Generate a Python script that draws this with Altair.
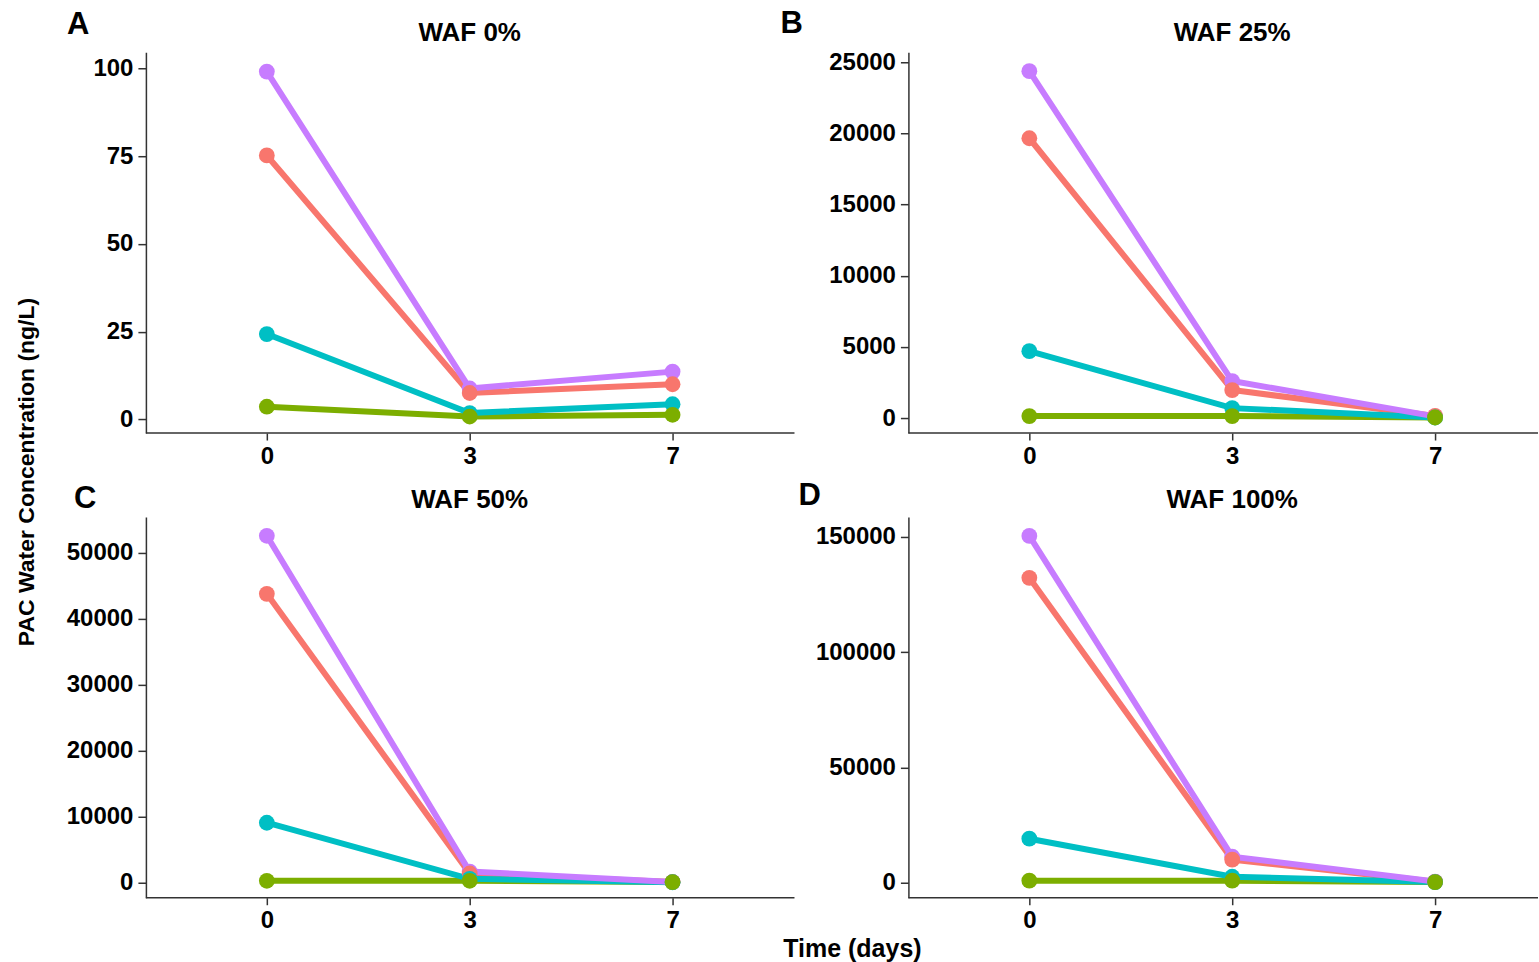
import altair as alt
import pandas as pd

# Sampling days (categorical, evenly spaced on the axis)
DAYS = ["0", "3", "7"]

# Series in drawing order for the lines: red, green, cyan, purple
SERIES = ["Series 1", "Series 2", "Series 3", "Series 4"]
COLORS = ["#F8766D", "#7CAE00", "#00BFC4", "#C77CFF"]
# Drawing order for the points (purple, red, cyan, green)
POINT_RANK = {"Series 4": 0, "Series 1": 1, "Series 3": 2, "Series 2": 3}

# PAC water concentrations (ng/L) on day 0, 3 and 7
WAF0_S1 = [75.2, 7.5, 10.0]
WAF0_S2 = [3.6, 0.8, 1.3]
WAF0_S3 = [24.3, 1.8, 4.3]
WAF0_S4 = [99.1, 8.8, 13.6]

WAF25_S1 = [19660, 1970, 150]
WAF25_S2 = [140, 140, 40]
WAF25_S3 = [4700, 700, 40]
WAF25_S4 = [24370, 2600, 120]

WAF50_S1 = [43800, 1400, 100]
WAF50_S2 = [300, 300, 100]
WAF50_S3 = [9100, 600, 80]
WAF50_S4 = [52600, 1700, 120]

WAF100_S1 = [132200, 10000, 400]
WAF100_S2 = [900, 900, 300]
WAF100_S3 = [19100, 2600, 300]
WAF100_S4 = [150400, 11300, 500]

# y-axis tick labels for each panel
TICKS_0 = [0, 25, 50, 75, 100]
TICKS_25 = [0, 5000, 10000, 15000, 20000, 25000]
TICKS_50 = [0, 10000, 20000, 30000, 40000, 50000]
TICKS_100 = [0, 50000, 100000, 150000]

FONT = "Liberation Sans"
INK = "#000000"
AXIS = "#333333"
PLOT_H = 381


def long_table(series_values):
    rows = []
    for name, vals in zip(SERIES, series_values):
        for day, v in zip(DAYS, vals):
            rows.append({"series": name, "day": day, "conc": v, "prank": POINT_RANK[name]})
    return pd.DataFrame(rows)


def label(text, x, y, size, align="left", angle=0, baseline="alphabetic"):
    return alt.Chart(pd.DataFrame({"k": [0]})).mark_text(
        font=FONT, fontSize=size, fontWeight="bold", color=INK,
        align=align, baseline=baseline, angle=angle,
    ).encode(x=alt.value(x), y=alt.value(y), text=alt.value(text))


def panel(series_values, title, letter, letter_xy, title_y, ydom, yticks, width, extra=()):
    df = long_table(series_values)
    x = alt.X(
        "day:O", sort=DAYS,
        scale=alt.Scale(range=[121, 527], padding=0),
        axis=alt.Axis(title=None, domain=False, labelAngle=0, tickSize=7,
                      labelPadding=4, labelBaseline="top"),
    )
    y = alt.Y(
        "conc:Q",
        scale=alt.Scale(domain=ydom, nice=False, zero=False),
        axis=alt.Axis(title=None, values=yticks, format="d", tickSize=8,
                      labelPadding=5, domainWidth=1.5),
    )
    color = alt.Color("series:N", scale=alt.Scale(domain=SERIES, range=COLORS), legend=None)

    lines = alt.Chart(df).mark_line(strokeWidth=6).encode(x=x, y=y, color=color)
    points = alt.Chart(df).mark_circle(size=250, opacity=1).encode(
        x=x, y=y, color=color, order=alt.Order("prank:Q")
    )
    baseline_rule = alt.Chart(pd.DataFrame({"k": [0]})).mark_rule(
        color=AXIS, strokeWidth=1.5
    ).encode(x=alt.value(0), x2=alt.value(width), y=alt.value(PLOT_H))

    layers = [lines, points, baseline_rule,
              label(title, 324, title_y, 26, align="center"),
              label(letter, letter_xy[0], letter_xy[1], 31)]
    layers.extend(extra)
    return alt.layer(*layers).properties(width=width, height=PLOT_H)


# invisible anchor pinning the top-left corner of the figure
anchor = alt.Chart(pd.DataFrame({"k": [0]})).mark_rule(opacity=0, strokeWidth=0).encode(
    x=alt.value(-146), x2=alt.value(-146), y=alt.value(-52), y2=alt.value(-52)
)
y_title = label("PAC Water Concentration (ng/L)", -119, 420, 23,
                align="center", angle=270, baseline="middle")
x_title = label("Time (days)", 707, 440, 25, align="center")

pA = panel([WAF0_S1, WAF0_S2, WAF0_S3, WAF0_S4], "WAF 0%", "A", (-79, -18), -11,
           [-3.9, 104.6], TICKS_0, 649, extra=(anchor, y_title))
pB = panel([WAF25_S1, WAF25_S2, WAF25_S3, WAF25_S4], "WAF 25%", "B", (-128, -19), -11,
           [-1050, 25700], TICKS_25, 630)
pC = panel([WAF50_S1, WAF50_S2, WAF50_S3, WAF50_S4], "WAF 50%", "C", (-72, -9), -9,
           [-2270, 55450], TICKS_50, 649, extra=(x_title,))
pD = panel([WAF100_S1, WAF100_S2, WAF100_S3, WAF100_S4], "WAF 100%", "D", (-110, -12), -9,
           [-6500, 158600], TICKS_100, 630)

chart = alt.concat(
    pA, pB, pC, pD, columns=2, spacing={"row": 84, "column": 114}, bounds="flush"
).properties(
    padding=0, background="white"
).configure_view(
    stroke=None
).configure_axis(
    grid=False,
    domainColor=AXIS,
    domainWidth=1.5,
    tickColor=AXIS,
    tickWidth=1.5,
    labelFont=FONT,
    labelFontSize=24,
    labelFontWeight="bold",
    labelColor=INK,
)

chart.save("out.html", embed_options={"renderer": "svg", "actions": False})
